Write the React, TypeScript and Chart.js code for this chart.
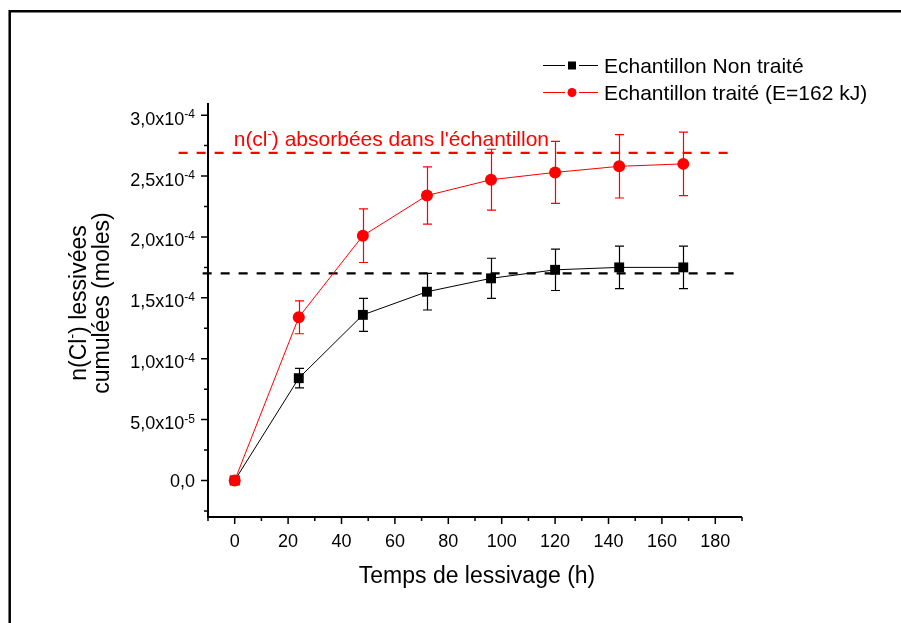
import React, { useEffect, useRef } from "react";
import { Chart, registerables } from "chart.js";

Chart.register(...registerables);

// ---------- data ----------
const hours = [0, 24, 48, 72, 96, 120, 144, 168];
const untreated = [0, 8.4e-5, 1.36e-4, 1.55e-4, 1.66e-4, 1.73e-4, 1.75e-4, 1.75e-4];
const untreatedErr = [0, 8e-6, 1.35e-5, 1.5e-5, 1.65e-5, 1.7e-5, 1.74e-5, 1.74e-5];
const treated = [0, 1.34e-4, 2.01e-4, 2.34e-4, 2.47e-4, 2.53e-4, 2.58e-4, 2.6e-4];
const treatedErr = [0, 1.35e-5, 2.2e-5, 2.35e-5, 2.5e-5, 2.55e-5, 2.6e-5, 2.6e-5];

const absorbedLevel = 2.69e-4;
const absorbedSpan = [-21, 186];
const plateauLevel = 1.7e-4;
const plateauSpan = [-12, 188.5];

const xMajorTicks = [0, 20, 40, 60, 80, 100, 120, 140, 160, 180];
const xMinorTicks = [-10, 10, 30, 50, 70, 90, 110, 130, 150, 170, 190];
const yMajorTicks = [0, 5e-5, 1e-4, 1.5e-4, 2e-4, 2.5e-4, 3e-4];
const yTickBase = ["0,0", "5,0x10", "1,0x10", "1,5x10", "2,0x10", "2,5x10", "3,0x10"];
const yTickExp = ["", "-5", "-4", "-4", "-4", "-4", "-4"];
const yMinorTicks = [-2.5e-5, 2.5e-5, 7.5e-5, 1.25e-4, 1.75e-4, 2.25e-4, 2.75e-4];

const seriesNames = ["Echantillon Non traité", "Echantillon traité (E=162 kJ)"];
const xTitle = "Temps de lessivage (h)";
const yTitle1 = ["n(Cl", "-", ") lessivées"];
const yTitle2 = "cumulées (moles)";
const annotation = ["n(cl", "-", ") absorbées dans l'échantillon"];
const annotationPos = { x: 0, y: 2.75e-4 };

const FONT = "'Liberation Sans', Arial, sans-serif";
const RED = "#ff0000";
const BLACK = "#000000";

function drawSupText(
  ctx: CanvasRenderingContext2D,
  parts: string[],
  x: number,
  y: number,
  size: number,
  supSize: number,
  raise: number,
  align: "left" | "right" | "center"
) {
  // parts: [base, sup, base, sup, ...]
  const widths: number[] = [];
  let total = 0;
  parts.forEach((p, i) => {
    ctx.font = `${i % 2 === 1 ? supSize : size}px ${FONT}`;
    const w = ctx.measureText(p).width;
    widths.push(w);
    total += w;
  });
  let cx = align === "left" ? x : align === "right" ? x - total : x - total / 2;
  ctx.textAlign = "left";
  ctx.textBaseline = "alphabetic";
  parts.forEach((p, i) => {
    const sup = i % 2 === 1;
    ctx.font = `${sup ? supSize : size}px ${FONT}`;
    ctx.fillText(p, cx, sup ? y - raise : y);
    cx += widths[i];
  });
}

const overlayPlugin = {
  id: "overlay",
  beforeDraw(chart: any) {
    const ctx = chart.ctx as CanvasRenderingContext2D;
    ctx.save();
    ctx.fillStyle = "#ffffff";
    ctx.fillRect(0, 0, chart.width, chart.height);
    // frame
    ctx.strokeStyle = BLACK;
    ctx.lineWidth = 2.5;
    ctx.beginPath();
    ctx.moveTo(9.7, chart.height + 5);
    ctx.lineTo(9.7, 11.3);
    ctx.lineTo(chart.width + 5, 11.3);
    ctx.stroke();
    ctx.restore();
  },
  beforeDatasetsDraw(chart: any) {
    const ctx = chart.ctx as CanvasRenderingContext2D;
    const xs = chart.scales.x;
    const ys = chart.scales.y;
    const drawErr = (vals: number[], errs: number[], color: string) => {
      ctx.strokeStyle = color;
      ctx.lineWidth = 1.2;
      hours.forEach((h, i) => {
        if (!errs[i]) return;
        const px = Math.round(xs.getPixelForValue(h)) + 0.5;
        const top = ys.getPixelForValue(vals[i] + errs[i]);
        const bot = ys.getPixelForValue(vals[i] - errs[i]);
        ctx.beginPath();
        ctx.moveTo(px, top);
        ctx.lineTo(px, bot);
        ctx.moveTo(px - 4.5, top);
        ctx.lineTo(px + 4.5, top);
        ctx.moveTo(px - 4.5, bot);
        ctx.lineTo(px + 4.5, bot);
        ctx.stroke();
      });
    };
    ctx.save();
    drawErr(untreated, untreatedErr, BLACK);
    drawErr(treated, treatedErr, RED);
    ctx.restore();
  },
  afterDraw(chart: any) {
    const ctx = chart.ctx as CanvasRenderingContext2D;
    const xs = chart.scales.x;
    const ys = chart.scales.y;
    const { left, right, top, bottom } = chart.chartArea;
    ctx.save();
    ctx.strokeStyle = BLACK;
    ctx.fillStyle = BLACK;
    // axes
    ctx.lineWidth = 2;
    ctx.beginPath();
    ctx.moveTo(left, top);
    ctx.lineTo(left, bottom);
    ctx.lineTo(right, bottom);
    ctx.stroke();
    // ticks
    ctx.lineWidth = 1.5;
    ctx.beginPath();
    xMajorTicks.forEach((v) => {
      const px = xs.getPixelForValue(v);
      ctx.moveTo(px, bottom);
      ctx.lineTo(px, bottom + 7);
    });
    xMinorTicks.forEach((v) => {
      const px = xs.getPixelForValue(v);
      ctx.moveTo(px, bottom);
      ctx.lineTo(px, bottom + 4);
    });
    yMajorTicks.forEach((v) => {
      const py = ys.getPixelForValue(v);
      ctx.moveTo(left, py);
      ctx.lineTo(left - 7, py);
    });
    yMinorTicks.forEach((v) => {
      const py = ys.getPixelForValue(v);
      ctx.moveTo(left, py);
      ctx.lineTo(left - 4, py);
    });
    ctx.stroke();

    // x tick labels
    ctx.font = `18px ${FONT}`;
    ctx.textAlign = "center";
    ctx.textBaseline = "alphabetic";
    xMajorTicks.forEach((v) => {
      ctx.fillText(String(v), xs.getPixelForValue(v), bottom + 30);
    });
    // y tick labels
    yMajorTicks.forEach((v, i) => {
      const py = ys.getPixelForValue(v);
      if (yTickExp[i]) {
        drawSupText(ctx, [yTickBase[i], yTickExp[i]], left - 13, py + 9.5, 18, 12, 6.5, "right");
      } else {
        drawSupText(ctx, [yTickBase[i]], left - 13, py + 6.5, 18, 12, 6.5, "right");
      }
    });

    // x title
    ctx.font = `23px ${FONT}`;
    ctx.textAlign = "center";
    ctx.fillText(xTitle, (left + right) / 2 + 2, 583);

    // y title (rotated)
    ctx.save();
    ctx.translate(0, 303);
    ctx.rotate(-Math.PI / 2);
    drawSupText(ctx, yTitle1, 0, 86, 23, 14, 9, "center");
    ctx.font = `23px ${FONT}`;
    ctx.textAlign = "center";
    ctx.fillText(yTitle2, 0, 109);
    ctx.restore();

    // annotation
    ctx.fillStyle = RED;
    drawSupText(
      ctx,
      annotation,
      xs.getPixelForValue(annotationPos.x) - 1,
      ys.getPixelForValue(annotationPos.y),
      21,
      13,
      8,
      "left"
    );

    // legend
    const legendItems = [
      { name: seriesNames[0], color: BLACK, style: "rect", y: 65 },
      { name: seriesNames[1], color: RED, style: "circle", y: 92 },
    ];
    legendItems.forEach((it) => {
      ctx.strokeStyle = it.color;
      ctx.fillStyle = it.color;
      ctx.lineWidth = 1;
      ctx.beginPath();
      ctx.moveTo(543, it.y + 0.5);
      ctx.lineTo(565, it.y + 0.5);
      ctx.moveTo(579, it.y + 0.5);
      ctx.lineTo(598, it.y + 0.5);
      ctx.stroke();
      if (it.style === "rect") {
        ctx.fillRect(568, it.y - 3.5, 8, 8);
      } else {
        ctx.beginPath();
        ctx.arc(572, it.y + 0.5, 4.5, 0, Math.PI * 2);
        ctx.fill();
      }
      ctx.fillStyle = BLACK;
      ctx.font = `21px ${FONT}`;
      ctx.textAlign = "left";
      ctx.textBaseline = "alphabetic";
      ctx.fillText(it.name, 604, it.y + 7.5);
    });
    ctx.restore();
  },
};

export default function App() {
  const canvasRef = useRef<HTMLCanvasElement | null>(null);

  useEffect(() => {
    const canvas = canvasRef.current;
    if (!canvas) return;
    const chart = new Chart(canvas, {
      type: "line",
      data: {
        datasets: [
          {
            label: seriesNames[1],
            data: hours.map((h, i) => ({ x: h, y: treated[i] })),
            borderColor: RED,
            backgroundColor: RED,
            borderWidth: 1,
            pointStyle: "circle",
            pointRadius: 6,
            pointBorderWidth: 0,
            pointBackgroundColor: RED,
            order: 0,
          },
          {
            label: seriesNames[0],
            data: hours.map((h, i) => ({ x: h, y: untreated[i] })),
            borderColor: BLACK,
            backgroundColor: BLACK,
            borderWidth: 1,
            pointStyle: "rect",
            pointRadius: 7,
            pointBorderWidth: 0,
            pointBackgroundColor: BLACK,
            order: 1,
          },
          {
            label: "absorbed",
            data: absorbedSpan.map((x) => ({ x, y: absorbedLevel })),
            borderColor: RED,
            borderWidth: 2.2,
            borderDash: [9, 9],
            pointRadius: 0,
            clip: false as any,
            order: 2,
          },
          {
            label: "plateau",
            data: plateauSpan.map((x) => ({ x, y: plateauLevel })),
            borderColor: BLACK,
            borderWidth: 2.2,
            borderDash: [9, 9],
            pointRadius: 0,
            clip: false as any,
            order: 3,
          },
        ],
      },
      options: {
        animation: false,
        responsive: false,
        devicePixelRatio: 1,
        parsing: true,
        layout: { padding: { left: 208, top: 103, right: 159, bottom: 106 } },
        plugins: { legend: { display: false }, tooltip: { enabled: false } },
        elements: { line: { tension: 0 } },
        scales: {
          x: { type: "linear", min: -10, max: 190, display: false },
          y: { type: "linear", min: -3e-5, max: 3.1e-4, display: false },
        },
      },
      plugins: [overlayPlugin],
    });
    return () => chart.destroy();
  }, []);

  return (
    <div style={{ position: "absolute", left: 0, top: 0, width: 901, height: 623, background: "#fff" }}>
      <canvas ref={canvasRef} width={901} height={623} style={{ width: 901, height: 623, display: "block" }} />
    </div>
  );
}
